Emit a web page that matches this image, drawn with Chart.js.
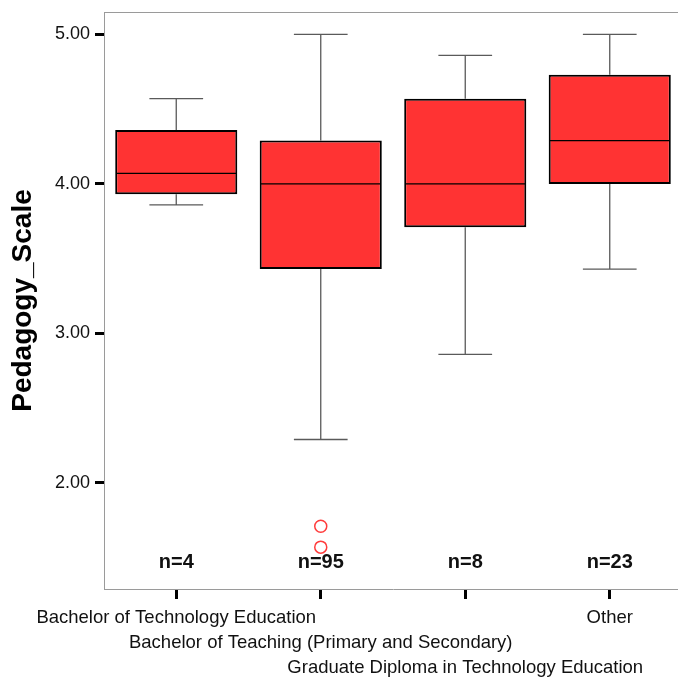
<!DOCTYPE html>
<html>
<head>
<meta charset="utf-8">
<script src="https://cdn.jsdelivr.net/npm/chart.js@4"></script>
<style>
  html, body { margin: 0; padding: 0; background: #fff; overflow: hidden; }
  #wrap { width: 682px; height: 679px; }
</style>
</head>
<body>
<div id="wrap"><canvas id="c" width="682" height="679"></canvas></div>
<script>
// ---- data ----
const categories = [
  ["Bachelor of Technology Education"],
  ["", "Bachelor of Teaching (Primary and Secondary)"],
  ["", "", "Graduate Diploma in Technology Education"],
  ["Other"]
];
const lowerWhisker = [3.86, 2.29, 2.86, 3.43];
const q1Values     = [3.93, 3.43, 3.71, 4.00];
const medianValues = [4.07, 4.00, 4.00, 4.29];
const q3Values     = [4.36, 4.29, 4.57, 4.73];
const upperWhisker = [4.57, 5.00, 4.86, 5.00];
const outlierCategory = [1, 1];
const outlierValues   = [1.71, 1.57];
const nLabels = ["n=4", "n=95", "n=8", "n=23"];
const yTickValues = [2, 3, 4, 5];
const yTitle = "Pedagogy_Scale";

const FONT = "'Liberation Sans', Arial, Helvetica, sans-serif";

const boxPlugin = {
  id: 'boxExtras',
  beforeDatasetsDraw(chart) {
    const ctx = chart.ctx, x = chart.scales.x, y = chart.scales.y;
    const meta = chart.getDatasetMeta(0);
    ctx.save();
    ctx.strokeStyle = '#5a5a5a';
    ctx.lineWidth = 1.3;
    meta.data.forEach((bar, i) => {
      const cx = x.getPixelForValue(i);
      const capHalf = bar.width * 0.22;
      const yLo = y.getPixelForValue(lowerWhisker[i]);
      const yHi = y.getPixelForValue(upperWhisker[i]);
      const yQ1 = y.getPixelForValue(q1Values[i]);
      const yQ3 = y.getPixelForValue(q3Values[i]);
      ctx.beginPath();
      ctx.moveTo(cx, yQ3); ctx.lineTo(cx, yHi);
      ctx.moveTo(cx, yQ1); ctx.lineTo(cx, yLo);
      ctx.moveTo(cx - capHalf, yHi); ctx.lineTo(cx + capHalf, yHi);
      ctx.moveTo(cx - capHalf, yLo); ctx.lineTo(cx + capHalf, yLo);
      ctx.stroke();
    });
    ctx.restore();
  },
  afterDatasetsDraw(chart) {
    const ctx = chart.ctx, x = chart.scales.x, y = chart.scales.y;
    const meta = chart.getDatasetMeta(0);
    const area = chart.chartArea;
    ctx.save();
    // medians
    ctx.strokeStyle = '#000';
    ctx.lineWidth = 1.2;
    meta.data.forEach((bar, i) => {
      const cx = x.getPixelForValue(i);
      const half = bar.width / 2;
      const ym = y.getPixelForValue(medianValues[i]);
      ctx.beginPath();
      ctx.moveTo(cx - half + 1, ym); ctx.lineTo(cx + half - 1, ym);
      ctx.stroke();
    });
    // n labels
    ctx.fillStyle = '#111';
    ctx.font = "bold 20px " + FONT;
    ctx.textAlign = 'center';
    ctx.textBaseline = 'middle';
    nLabels.forEach((t, i) => {
      ctx.fillText(t, x.getPixelForValue(i), y.getPixelForValue(1.47));
    });
    // plot frame (top & right)
    ctx.strokeStyle = '#9a9a9a';
    ctx.lineWidth = 1;
    ctx.beginPath();
    ctx.moveTo(area.left, Math.round(area.top) + 0.5);
    ctx.lineTo(area.right, Math.round(area.top) + 0.5);
    ctx.lineTo(area.right - 0.5, area.bottom);
    ctx.stroke();
    ctx.restore();
  }
};

const outlierDatasets = outlierValues.map((v, k) => ({
  type: 'line',
  data: categories.map((_, i) => (i === outlierCategory[k] ? v : null)),
  showLine: false,
  pointStyle: 'circle',
  pointRadius: 6,
  pointBorderWidth: 1.5,
  pointBorderColor: '#ff3b3b',
  pointBackgroundColor: 'rgba(255,255,255,0)',
  order: 1
}));

new Chart(document.getElementById('c'), {
  type: 'bar',
  data: {
    labels: categories,
    datasets: [
      {
        type: 'bar',
        data: q1Values.map((v, i) => [v, q3Values[i]]),
        backgroundColor: '#ff3333',
        borderColor: '#000',
        borderWidth: 2,
        borderSkipped: false,
        barPercentage: 0.845,
        categoryPercentage: 1.0,
        order: 2
      },
      ...outlierDatasets
    ]
  },
  options: {
    responsive: false,
    animation: false,
    layout: { autoPadding: false, padding: { top: 12, right: 0, left: 0, bottom: 0 } },
    plugins: {
      legend: { display: false },
      tooltip: { enabled: false }
    },
    scales: {
      x: {
        type: 'category',
        offset: true,
        grid: {
          offset: false,
          drawOnChartArea: false,
          drawTicks: true,
          tickLength: 10,
          tickWidth: 3,
          tickColor: '#000',
          color: '#000'
        },
        border: { display: true, color: '#9a9a9a', width: 1 },
        ticks: {
          autoSkip: false,
          maxRotation: 0,
          minRotation: 0,
          padding: 7,
          color: '#111',
          font: { family: FONT, size: 18.5, lineHeight: 1.33 }
        },
        afterFit(scale) { scale.height = 90; }
      },
      y: {
        min: 1.29,
        max: 5.15,
        afterBuildTicks(scale) {
          scale.ticks = yTickValues.map(v => ({ value: v }));
        },
        grid: {
          drawOnChartArea: false,
          drawTicks: true,
          tickLength: 9,
          tickWidth: 3,
          tickColor: '#000',
          color: '#000'
        },
        border: { display: true, color: '#9a9a9a', width: 1 },
        ticks: {
          padding: 5,
          color: '#111',
          font: { family: FONT, size: 18 },
          callback: (v) => Number(v).toFixed(2)
        },
        title: {
          display: true,
          text: yTitle,
          color: '#000',
          font: { family: FONT, size: 28, weight: 'bold', lineHeight: 1.2 },
          padding: { top: 6, bottom: 0 }
        },
        afterFit(scale) {
          scale.width = 104;
          scale.paddingTop = 0;
          scale.paddingBottom = 0;
        }
      }
    }
  },
  plugins: [boxPlugin]
});
</script>
</body>
</html>
